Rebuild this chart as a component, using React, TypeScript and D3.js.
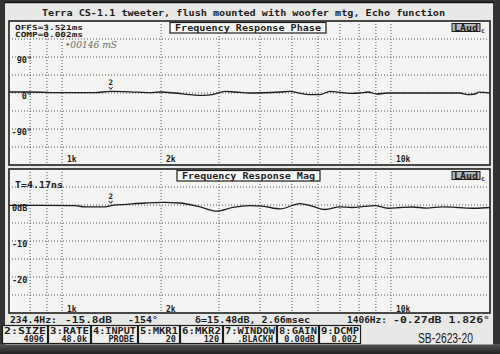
import React from "react";
import * as d3 from "d3";

// ---- data ----
const phaseFreq = [690, 800, 1000, 1260, 1400, 1610, 1850, 1985, 2205, 2450, 2680, 2860, 3130, 3360, 3720, 4600, 4930, 5290, 5670, 6080, 6520, 7100, 7610, 8050, 8510, 9070, 9790, 12250, 16200, 17100, 18000, 18500, 20000];
const phaseDeg = [2.5, 2.5, 1, 1, 4, 3, 1, 2.5, 0, -4, -6, -4, 4, 2.5, 0, 2.5, 4, -1, -4, -4, 4, 1, -1, 0, 2.5, -2.5, 0, 0, 0, -4, -2.5, 2, 0];

const magFreq = [690, 860, 1095, 1175, 1350, 1420, 1575, 1790, 2030, 2280, 2630, 2960, 3310, 3720, 4060, 4600, 5290, 5750, 6300, 7000, 7610, 8280, 8940, 9790, 10650, 11600, 12860, 14300, 16000, 18000, 20000];
const magDb = [-0.1, -0.1, -0.2, -0.5, -0.5, -0.1, 0.2, 0.55, 0.75, 0.55, -0.55, -1.7, -0.65, -0.2, -0.3, -1.1, 0.4, -0.3, -1.25, -0.5, -0.7, -0.4, -0.15, -0.9, -0.7, -0.55, -0.85, -0.5, -0.7, -0.9, -0.7];

const gridFreqs = [800, 900, 1000, 2000, 3000, 4000, 5000, 6000, 7000, 8000, 9000, 10000];
const freqLabels = [{ f: 1000, t: "1k" }, { f: 2000, t: "2k" }, { f: 10000, t: "10k" }];
const phaseTicks = [90, 0, -90];
const phaseTickLabels = ["90°", "0°", "-90°"];
const magTicks = [0, -10, -20];
const magTickLabels = ["0dB", "-10", "-20"];
const markerFreq = 1406;

const titleText = "Terra CS-1.1 tweeter, flush mounted with woofer mtg, Echo function";
const keyLabels = ["2:SIZE", "3:RATE", "4:INPUT", "5:MKR1", "6:MKR2", "7:WINDOW", "8:GAIN", "9:DCMP"];
const keyValues = ["4096", "48.0k", "PROBE", "20", "120", ".BLACKH", "0.00dB", "0.002"];
const statusTexts = ["234.4Hz:", "-15.8dB", "-154°", "δ=15.48dB, 2.66msec", "1406Hz:", "-0.27dB 1.826°"];

// ---- layout ----
const W = 500, H = 354;
const PL = 9, PR = 490;
const phTop = 21, phBot = 165;
const mgTop = 169, mgBot = 313;
const keyEdges = [2, 48, 91, 138, 180, 223, 277, 319, 361];
const statusX = [10, 65, 128, 195, 347, 393];
const statusW = [47, 47, 30, 115, 40, 97];
const mono = "'DejaVu Sans Mono', 'Liberation Mono', monospace";
const ink = "#1e1e1e";

const x = d3.scaleLog().domain([690, 20000]).range([PL, PR]);
const yPh = d3.scaleLinear().domain([-180, 180]).range([phBot, phTop]);
const yMg = d3.scaleLinear().domain([-30, 10]).range([mgBot, mgTop]);

function Panel({ top, bot, y, hStep, hDomain, data, ticks, tickLabels, tickAnchorEnd, title, boxX, boxW, extra, labelBase }: any) {
  const hLines = d3.range(hDomain[0] + hStep, hDomain[1], hStep);
  const line = d3.line<[number, number]>().x(d => x(d[0])).y(d => y(d[1])).curve(d3.curveMonotoneX);
  return (
    <g>
      <rect x={PL} y={top} width={PR - PL} height={bot - top} fill="#f4f4f2" stroke={ink} strokeWidth={1.6} />
      {hLines.map((v: number) => (
        <line key={"h" + v} x1={PL} x2={PR} y1={y(v)} y2={y(v)} stroke="#555" strokeWidth={1} strokeDasharray="1,2" />
      ))}
      {gridFreqs.map(f => (
        <line key={"v" + f} x1={x(f)} x2={x(f)} y1={top} y2={bot} stroke="#555" strokeWidth={1} strokeDasharray="1,2" />
      ))}
      <path d={line(data) || ""} fill="none" stroke={ink} strokeWidth={1.3} />
      {ticks.map((v: number, i: number) => (
        <text key={"t" + v} x={tickAnchorEnd ? 32 : 12} y={y(v) + 6} textAnchor={tickAnchorEnd ? "end" : "start"}
          fontFamily={mono} fontWeight="bold" fontSize={8.5} fill={ink}>{tickLabels[i]}</text>
      ))}
      {freqLabels.map(l => (
        <text key={l.t} x={x(l.f) + 5} y={labelBase} fontFamily={mono} fontWeight="bold" fontSize={8} fill={ink}>{l.t}</text>
      ))}
      <rect x={boxX} y={top + 1.5} width={boxW} height={10.5} fill="#fafafa" stroke={ink} strokeWidth={1.2} />
      <text x={boxX + boxW / 2} y={top + 10} textAnchor="middle" fontFamily={mono} fontWeight="bold" fontSize={8.5}
        fill={ink} textLength={boxW - 10} lengthAdjust="spacingAndGlyphs">{title}</text>
      <rect x={452} y={top + 2.5} width={28} height={8} fill="#b8b8b8" stroke={ink} strokeWidth={1} />
      <text x={466} y={top + 9.5} textAnchor="middle" fontFamily={mono} fontWeight="bold" fontSize={8} fill={ink}
        textLength={24} lengthAdjust="spacingAndGlyphs">LAud</text>
      <text x={481} y={top + 11.5} fontFamily={mono} fontWeight="bold" fontSize={6.5} fill={ink}>c</text>
      {/* marker 2 */}
      <text x={x(markerFreq)} y={y(extra.markerVal) - 6} textAnchor="middle" fontFamily={mono} fontWeight="bold" fontSize={7.5} fill={ink}>2</text>
      <path d={`M${x(markerFreq) - 2},${y(extra.markerVal) - 4.5} L${x(markerFreq)},${y(extra.markerVal) - 2} L${x(markerFreq) + 2},${y(extra.markerVal) - 4.5}`}
        fill="none" stroke={ink} strokeWidth={1} />
    </g>
  );
}

export default function App() {
  const phData: [number, number][] = phaseFreq.map((f, i) => [f, phaseDeg[i]]);
  const mgData: [number, number][] = magFreq.map((f, i) => [f, magDb[i]]);
  return (
    <svg width={W} height={H} style={{ position: "fixed", left: 0, top: 0, display: "block" }}>
      <defs>
        <linearGradient id="botg" x1="0" y1="0" x2="0" y2="1">
          <stop offset="0" stopColor="#555" />
          <stop offset="1" stopColor="#222" />
        </linearGradient>
      </defs>
      <rect x={0} y={0} width={W} height={H} fill="#333" />
      <rect x={0} y={344} width={W} height={10} fill="url(#botg)" />
      <rect x={5} y={2.5} width={488} height={342} fill="#e8e8e6" />
      <line x1={4} x2={494} y1={2.5} y2={2.5} stroke="#111" strokeWidth={1.5} />

      <text x={42} y={16} fontFamily={mono} fontWeight="bold" fontSize={9.5} fill={ink}
        textLength={403} lengthAdjust="spacingAndGlyphs">{titleText}</text>

      <Panel top={phTop} bot={phBot} y={yPh} hStep={45} hDomain={[-180, 180]} data={phData}
        ticks={phaseTicks} tickLabels={phaseTickLabels} tickAnchorEnd={true}
        title="Frequency Response Phase" boxX={170} boxW={156} extra={{ markerVal: 4 }} labelBase={162} />
      <Panel top={mgTop} bot={mgBot} y={yMg} hStep={5} hDomain={[-30, 10]} data={mgData}
        ticks={magTicks} tickLabels={magTickLabels} tickAnchorEnd={false}
        title="Frequency Response Mag" boxX={177} boxW={143} extra={{ markerVal: -0.1 }} labelBase={311.5} />

      <text x={15} y={29.5} fontFamily={mono} fontWeight="bold" fontSize={7} fill={ink} textLength={68} lengthAdjust="spacingAndGlyphs">OFFS=3.521ms</text>
      <text x={15} y={36.5} fontFamily={mono} fontWeight="bold" fontSize={7} fill={ink} textLength={68} lengthAdjust="spacingAndGlyphs">COMP=0.002ms</text>
      <text x={65} y={48} fontFamily="'DejaVu Serif', serif" fontStyle="italic" fontSize={8.5} fill="#6a6a6a"
        textLength={52} lengthAdjust="spacingAndGlyphs">•00146 mS</text>
      <text x={15} y={188} fontFamily={mono} fontWeight="bold" fontSize={8} fill={ink} textLength={48} lengthAdjust="spacingAndGlyphs">T=4.17ns</text>

      {statusTexts.map((t, i) => (
        <text key={t} x={statusX[i]} y={323} fontFamily={mono} fontWeight="bold" fontSize={8.5} fill={ink}
          textLength={statusW[i]} lengthAdjust="spacingAndGlyphs">{t}</text>
      ))}

      {keyLabels.map((k, i) => {
        const x0 = keyEdges[i], x1 = keyEdges[i + 1] - 1;
        return (
          <g key={k}>
            <rect x={x0 + 0.5} y={325.5} width={x1 - x0} height={18} fill="#efefed" stroke={ink} strokeWidth={1.2} />
            <text x={x0 + 2} y={333.5} fontFamily={mono} fontWeight="bold" fontSize={8.5} fill={ink}
              textLength={x1 - x0 - 3} lengthAdjust="spacingAndGlyphs">{k}</text>
            <text x={x1 - 3} y={342} textAnchor="end" fontFamily={mono} fontWeight="bold" fontSize={8.5} fill={ink}>{keyValues[i]}</text>
          </g>
        );
      })}

      <text x={418} y={343} fontFamily="'Liberation Sans', Arial, sans-serif" fontSize={14} fill="#222"
        textLength={55} lengthAdjust="spacingAndGlyphs">SB-2623-20</text>
    </svg>
  );
}
